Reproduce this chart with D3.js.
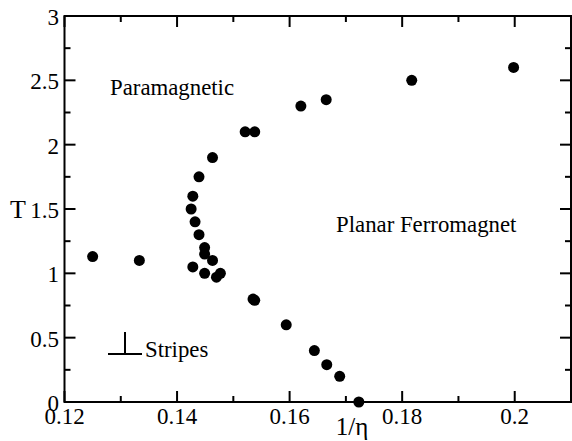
<!DOCTYPE html>
<html>
<head>
<meta charset="utf-8">
<script src="https://cdn.jsdelivr.net/npm/d3@7"></script>
<style>
  html, body { margin: 0; padding: 0; background: #fff; }
  svg { display: block; }
</style>
</head>
<body>
<svg id="chart" width="572" height="441"></svg>
<script>
// ---- data ----
const invEta = [0.125, 0.1333, 0.1428, 0.1449, 0.1470, 0.1477, 0.1463, 0.1449, 0.1449, 0.1439,
                0.1432, 0.1425, 0.1428, 0.1439, 0.1463, 0.1521, 0.1538, 0.1620, 0.1665, 0.1817,
                0.1998, 0.1535, 0.1538, 0.1594, 0.1644, 0.1666, 0.1689, 0.1723];
const temps  = [1.13, 1.10, 1.05, 1.00, 0.97, 1.00, 1.10, 1.15, 1.20, 1.30,
                1.40, 1.50, 1.60, 1.75, 1.90, 2.10, 2.10, 2.30, 2.35, 2.50,
                2.60, 0.80, 0.79, 0.60, 0.40, 0.29, 0.20, 0.00];
const xTicks = [0.12, 0.14, 0.16, 0.18, 0.2];
const xTickLabels = ["0.12", "0.14", "0.16", "0.18", "0.2"];
const xMinorTicks = [0.13, 0.15, 0.17, 0.19];
const yTicks = [0, 0.5, 1, 1.5, 2, 2.5, 3];
const yTickLabels = ["0", "0.5", "1", "1.5", "2", "2.5", "3"];
const yMinorTicks = [0.25, 0.75, 1.25, 1.75, 2.25, 2.75];
const phaseLabels = ["Paramagnetic", "Planar Ferromagnet", "Stripes"];

// ---- layout ----
const FONT = "'Liberation Serif', 'Times New Roman', Times, 'DejaVu Serif', serif";
const svg = d3.select("#chart");
const L = 64.5, R = 571, T = 16, B = 402;
const x = d3.scaleLinear().domain([0.12, 0.21]).range([L, R]);
const y = d3.scaleLinear().domain([0, 3]).range([B, T]);
const major = 11, minor = 6, sw = 2;

function txt(xp, yp, s, size, anchor) {
  return svg.append("text").attr("x", xp).attr("y", yp)
    .attr("font-family", FONT).attr("font-size", size)
    .attr("text-anchor", anchor || "start").attr("fill", "#000").text(s);
}

// ticks (inside)
function ticks(axis, vals, len) {
  const g = svg.append("g").attr("stroke", "#000").attr("stroke-width", sw);
  vals.forEach(v => {
    if (axis === "x") {
      g.append("line").attr("x1", x(v)).attr("x2", x(v)).attr("y1", B).attr("y2", B - len);
      g.append("line").attr("x1", x(v)).attr("x2", x(v)).attr("y1", T).attr("y2", T + len);
    } else {
      g.append("line").attr("y1", y(v)).attr("y2", y(v)).attr("x1", L).attr("x2", L + len);
      g.append("line").attr("y1", y(v)).attr("y2", y(v)).attr("x1", R).attr("x2", R - len);
    }
  });
}
ticks("x", xTicks, major);
ticks("x", xMinorTicks, minor);
ticks("y", yTicks, major);
ticks("y", yMinorTicks, minor);

// frame
svg.append("rect").attr("x", L).attr("y", T).attr("width", R - L).attr("height", B - T)
  .attr("fill", "none").attr("stroke", "#000").attr("stroke-width", sw);

// tick labels
xTicks.forEach((d, i) => txt(x(d), 424, xTickLabels[i], 23, "middle"));
yTicks.forEach((d, i) => txt(59, y(d) + 9, yTickLabels[i], 23, "end"));

// axis titles
txt(352, 435, "1/η", 25, "middle");
txt(18, 218, "T", 26, "middle");

// points
svg.append("g").selectAll("circle").data(invEta).join("circle")
  .attr("cx", d => x(d)).attr("cy", (d, i) => y(temps[i]))
  .attr("r", 5.5).attr("fill", "#000");

// phase labels
txt(110, 95, phaseLabels[0], 22.8);
txt(336, 232, phaseLabels[1], 22.8);
txt(145, 357, phaseLabels[2], 22.8);

// stripes symbol (perpendicular)
const sym = svg.append("g").attr("stroke", "#000").attr("stroke-width", 2);
sym.append("line").attr("x1", 108).attr("x2", 142).attr("y1", 354).attr("y2", 354);
sym.append("line").attr("x1", 125).attr("x2", 125).attr("y1", 332).attr("y2", 354);
</script>
</body>
</html>
